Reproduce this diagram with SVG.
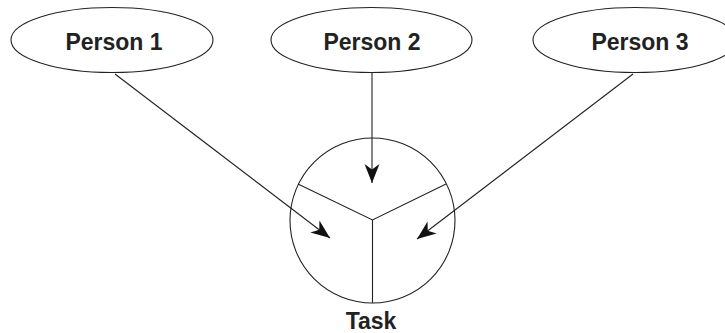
<svg xmlns="http://www.w3.org/2000/svg" width="725" height="333" viewBox="0 0 725 333">
<style>
.shape{fill:#fff;stroke:#222;stroke-width:1.1}
.lbl{font-family:"Liberation Sans",Arial,sans-serif;font-weight:bold;font-size:23px;fill:#222;text-anchor:middle}
.conn{stroke:#222;stroke-width:1.1;fill:none}
</style>
<defs>
<marker id="arr" markerUnits="userSpaceOnUse" viewBox="-20 -8 21 16" refX="0" refY="0" markerWidth="21" markerHeight="16" orient="auto">
<path d="M0,0 L-19,-7.5 L-13.5,0 L-19,7.5 Z" fill="#111"/>
</marker>
</defs>
<g id="person1"><ellipse class="shape" cx="112" cy="40" rx="101" ry="32.5"/><text class="lbl" x="114" y="49.5">Person 1</text></g>
<g id="person2"><ellipse class="shape" cx="371.5" cy="40" rx="100.5" ry="32.5"/><text class="lbl" x="372" y="49.5">Person 2</text></g>
<g id="person3"><ellipse class="shape" cx="635" cy="40" rx="102" ry="32.5"/><text class="lbl" x="640" y="49.5">Person 3</text></g>
<g id="task">
<circle class="shape" cx="372.5" cy="220.5" r="82.5"/>
<path class="conn" d="M298,184 L372.5,220 L446,184 M372.5,220 L372.5,303"/>
<text class="lbl" x="371" y="329">Task</text>
</g>
<g id="connectors">
<line class="conn" x1="115" y1="74" x2="330" y2="238" marker-end="url(#arr)"/>
<line class="conn" x1="372" y1="73" x2="372" y2="183" marker-end="url(#arr)"/>
<line class="conn" x1="633" y1="74" x2="417" y2="239" marker-end="url(#arr)"/>
</g>
</svg>
